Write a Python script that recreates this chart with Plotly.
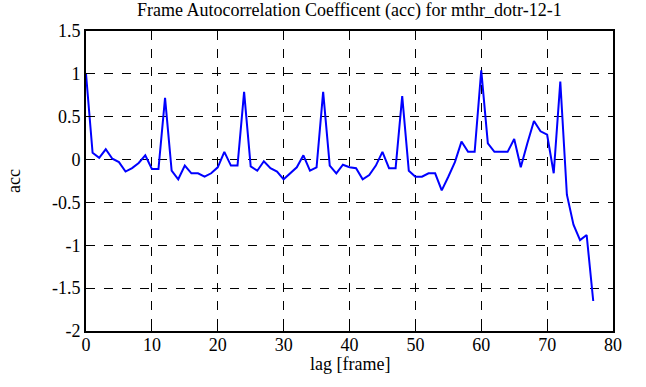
import plotly.graph_objects as go

lags = list(range(78))
acc = [1.0, 0.08, 0.02, 0.12, 0.01, -0.03, -0.14, -0.1, -0.04, 0.05,
       -0.11, -0.11, 0.72, -0.13, -0.23, -0.07, -0.16, -0.16, -0.2, -0.16,
       -0.09, 0.09, -0.07, -0.07, 0.79, -0.08, -0.13, -0.02, -0.1, -0.14,
       -0.23, -0.16, -0.09, 0.05, -0.13, -0.09, 0.79, -0.07, -0.16, -0.06,
       -0.09, -0.1, -0.23, -0.18, -0.07, 0.09, -0.1, -0.1, 0.74, -0.13,
       -0.2, -0.2, -0.16, -0.16, -0.36, -0.2, -0.03, 0.21, 0.09, 0.09,
       1.04, 0.19, 0.09, 0.09, 0.09, 0.24, -0.09, 0.19, 0.45, 0.33,
       0.29, -0.16, 0.91, -0.41, -0.76, -0.94, -0.88, -1.65]

x_ticks = [0, 10, 20, 30, 40, 50, 60, 70, 80]
y_ticks = [-2, -1.5, -1, -0.5, 0, 0.5, 1, 1.5]
y_tick_labels = ["-2", "-1.5", "-1", "-0.5", "0", "0.5", "1", "1.5"]

title_text = "Frame Autocorrelation Coefficent (acc) for mthr_dotr-12-1"
x_label = "lag [frame]"
y_label = "acc"

font = "Liberation Serif"
tfont = dict(family=font, size=18, color="black")

fig = go.Figure()
fig.add_trace(go.Scatter(x=lags, y=acc, mode="lines",
                         line=dict(color="#0000FF", width=2)))

axis_common = dict(
    showline=True, linecolor="black", linewidth=2, mirror="ticks",
    ticks="inside", ticklen=5, tickcolor="black", tickwidth=1,
    showgrid=True, gridcolor="black", gridwidth=1, griddash="dash",
    zeroline=False, automargin=False,
    tickfont=tfont,
)

fig.update_layout(
    width=646, height=387,
    paper_bgcolor="white", plot_bgcolor="white",
    font=dict(family=font, color="black"),
    margin=dict(l=86, r=33, t=31, b=56),
    showlegend=False,
    xaxis=dict(range=[0, 80], tickvals=x_ticks, ticklabelstandoff=-4, **axis_common),
    yaxis=dict(range=[-2, 1.5], tickvals=y_ticks, ticktext=y_tick_labels, **axis_common),
    annotations=[
        dict(text=title_text, xref="paper", yref="paper", x=0.5, y=1,
             xanchor="center", yanchor="bottom", yshift=8, showarrow=False, font=tfont),
        dict(text=x_label, xref="paper", yref="paper", x=0.5, y=0,
             xanchor="center", yanchor="top", yshift=-21, showarrow=False, font=tfont),
        dict(text=y_label, xref="paper", yref="paper", x=0, y=0.5,
             xanchor="center", yanchor="middle", xshift=-72, textangle=-90,
             showarrow=False, font=tfont),
    ],
)

fig.write_html("out.html", config={"displayModeBar": False},
               post_script="document.body.style.margin='0';")
